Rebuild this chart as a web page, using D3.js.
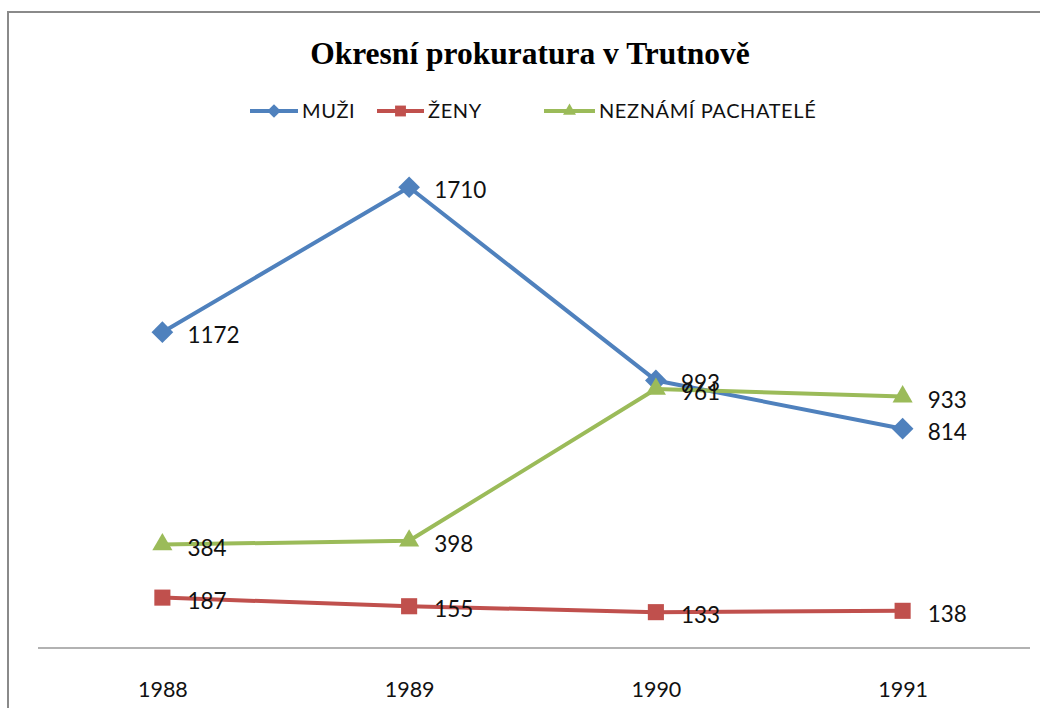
<!DOCTYPE html>
<html>
<head>
<meta charset="utf-8">
<script src="https://cdn.jsdelivr.net/npm/d3@7"></script>
<style>
  html, body { margin: 0; padding: 0; background: #fff; }
  svg { display: block; }
</style>
</head>
<body>
<svg id="chart" width="1040" height="708"></svg>
<script>
// Data: criminal cases of the district prosecution office in Trutnov
const years = ["1988", "1989", "1990", "1991"];
const muzi = [1172, 1710, 993, 814];
const zeny = [187, 155, 133, 138];
const neznami = [384, 398, 961, 933];
const seriesNames = ["MUŽI", "ŽENY", "NEZNÁMÍ PACHATELÉ"];
const title = "Okresní prokuratura v Trutnově";

const series = [
  { name: seriesNames[0], values: muzi, color: "#4F81BD", symbol: d3.symbolDiamond2 },
  { name: seriesNames[1], values: zeny, color: "#C0504D", symbol: d3.symbolSquare2 },
  { name: seriesNames[2], values: neznami, color: "#9BBB59", symbol: d3.symbolTriangle2 }
];

const svg = d3.select("#chart");
const labelFont = "Lato, 'Open Sans', sans-serif";

// Outer chart frame (continues past the right and bottom edges)
svg.append("rect")
  .attr("x", 8).attr("y", 12)
  .attr("width", 1100).attr("height", 800)
  .attr("fill", "none")
  .attr("stroke", "#8a8a8a")
  .attr("stroke-width", 2);

// Title
svg.append("text")
  .attr("x", 530).attr("y", 64)
  .attr("text-anchor", "middle")
  .attr("font-family", "'Liberation Serif', 'Times New Roman', serif")
  .attr("font-weight", "bold")
  .attr("font-size", 31.5)
  .attr("fill", "#000")
  .text(title);

// Scales
const x = d3.scalePoint().domain(years).range([39, 1026]).padding(0.5);
const y = d3.scaleLinear().domain([0, 1800]).range([648, 163]);

// Category axis: a single line with labels, no ticks
const xAxis = svg.append("g")
  .attr("transform", `translate(0,${y(0)})`)
  .call(d3.axisBottom(x).tickSize(0).tickPadding(34));
xAxis.select(".domain")
  .attr("d", "M38,0H1030")
  .attr("stroke", "#999")
  .attr("stroke-width", 1.5);
xAxis.selectAll(".tick text")
  .attr("font-family", labelFont)
  .attr("font-size", 21.5)
  .attr("fill", "#111");

// Lines
const line = d3.line()
  .x((d, i) => x(years[i]))
  .y(d => y(d));

const g = svg.append("g");
series.forEach(s => {
  g.append("path")
    .datum(s.values)
    .attr("d", line)
    .attr("fill", "none")
    .attr("stroke", s.color)
    .attr("stroke-width", 4)
    .attr("stroke-linejoin", "round");
});

// Markers
const markerSize = { [seriesNames[0]]: 300, [seriesNames[1]]: 330, [seriesNames[2]]: 290 };
series.forEach(s => {
  g.selectAll(null)
    .data(s.values)
    .join("path")
    .attr("transform", (d, i) => `translate(${x(years[i])},${y(d)})`)
    .attr("d", d3.symbol().type(s.symbol).size(markerSize[s.name]))
    .attr("fill", s.color);
});

// Data labels to the right of each point
series.forEach(s => {
  g.selectAll(null)
    .data(s.values)
    .join("text")
    .attr("x", (d, i) => x(years[i]) + 25)
    .attr("y", d => y(d) + 11)
    .attr("font-family", labelFont)
    .attr("font-size", 22.5)
    .attr("fill", "#111")
    .text(d => d);
});

// Legend
const legendItems = [
  { x: 250, textX: 302 },
  { x: 377, textX: 428 },
  { x: 544, textX: 599 }
];
const legend = svg.append("g");
series.forEach((s, i) => {
  const li = legendItems[i];
  const item = legend.append("g");
  item.append("line")
    .attr("x1", li.x).attr("x2", li.textX - 4)
    .attr("y1", 111).attr("y2", 111)
    .attr("stroke", s.color)
    .attr("stroke-width", 4);
  item.append("path")
    .attr("transform", `translate(${(li.x + li.textX - 4) / 2},111)`)
    .attr("d", d3.symbol().type(s.symbol).size(i === 1 ? 150 : 120))
    .attr("fill", s.color);
  item.append("text")
    .attr("x", li.textX).attr("y", 118)
    .attr("font-family", labelFont)
    .attr("font-size", 20)
    .attr("letter-spacing", 0.6)
    .attr("fill", "#111")
    .text(s.name);
});
</script>
</body>
</html>
